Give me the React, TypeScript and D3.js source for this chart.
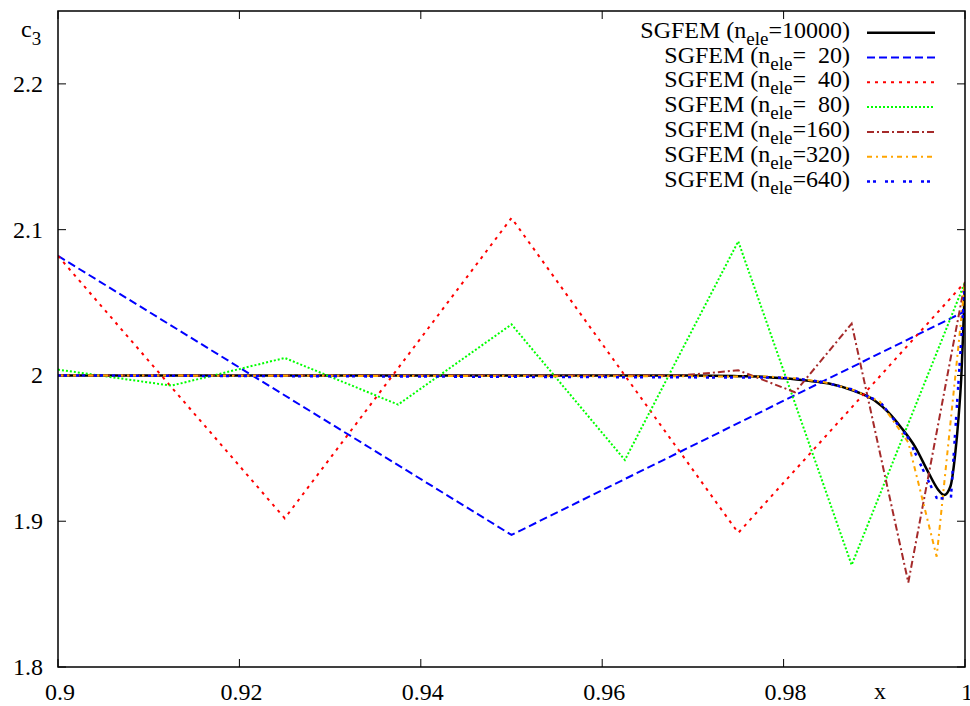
import React, { useEffect, useRef } from "react";
import * as d3 from "d3";

// values
const xTicks = [0.9, 0.92, 0.94, 0.96, 0.98, 1];
const xTickLabels = ["0.9", "0.92", "0.94", "0.96", "0.98", "1"];
const yTicks = [1.8, 1.9, 2.0, 2.1, 2.2];
const yTickLabels = ["1.8", "1.9", "2", "2.1", "2.2"];

const legendNames = ["10000", "  20", "  40", "  80", "160", "320", "640"];

const ele10000: [number, number][] = [
  [0.9, 2.0], [0.97, 2.0], [0.975, 1.9995], [0.978, 1.999], [0.98, 1.998],
  [0.9825, 1.9965], [0.985, 1.9945], [0.9875, 1.99], [0.99, 1.983], [0.9915, 1.975],
  [0.993, 1.964], [0.9945, 1.951], [0.996, 1.933], [0.997, 1.922], [0.9977, 1.918],
  [0.9984, 1.924], [0.9989, 1.945], [0.9993, 1.972], [0.9996, 2.0], [0.9998, 2.03],
  [1.0, 2.063],
];
const ele20: [number, number][] = [[0.9, 2.082], [0.95, 1.8906], [1.0, 2.044]];
const ele40: [number, number][] = [
  [0.9, 2.082], [0.925, 1.902], [0.95, 2.108], [0.975, 1.892], [1.0, 2.064],
];
const ele80: [number, number][] = [
  [0.9, 2.004], [0.9125, 1.993], [0.925, 2.012], [0.9375, 1.98], [0.95, 2.035],
  [0.9625, 1.942], [0.975, 2.092], [0.9875, 1.87], [1.0, 2.064],
];
const ele160: [number, number][] = [
  [0.9, 2.0], [0.96875, 2.0], [0.975, 2.0035], [0.98125, 1.9885], [0.9875, 2.0355],
  [0.99375, 1.858], [1.0, 2.064],
];
const ele320: [number, number][] = [
  [0.9, 2.0], [0.978125, 1.9993], [0.98125, 1.998], [0.984375, 1.9955], [0.9875, 1.9905],
  [0.990625, 1.982], [0.99375, 1.954], [0.996875, 1.8757], [1.0, 2.064],
];
const ele640: [number, number][] = [
  [0.9, 2.0], [0.9796875, 1.9985], [0.98125, 1.998], [0.984375, 1.9955], [0.9875, 1.9905],
  [0.990625, 1.982], [0.99375, 1.957], [0.9953125, 1.936], [0.996875, 1.916],
  [0.9984375, 1.915], [1.0, 2.064],
];

const seriesData = [ele10000, ele20, ele40, ele80, ele160, ele320, ele640];
const colors = ["#000000", "#0000ff", "#ff0000", "#00ff00", "#a52a2a", "#ffa500", "#0000ff"];
const dashes = ["none", "8,4", "3,5", "2,2", "7,3,2,3", "5,4,2,4", "3,3,3,9"];
const widths = [2.5, 2, 2, 2, 2, 2, 2.5];

export default function App() {
  const ref = useRef<SVGSVGElement>(null);

  useEffect(() => {
    const svg = d3.select(ref.current);
    svg.selectAll("*").remove();

    const left = 58, right = 965, top = 11, bottom = 667;
    const font = "'Liberation Serif', 'Times New Roman', serif";
    const fs = 24;

    const x = d3.scaleLinear().domain([0.9, 1]).range([left, right]);
    const y = d3.scaleLinear().domain([1.8, 2.25]).range([bottom, top]);

    svg.append("defs").append("clipPath").attr("id", "plot")
      .append("rect")
      .attr("x", left).attr("y", top)
      .attr("width", right - left).attr("height", bottom - top);

    const line = d3.line<[number, number]>()
      .x(d => x(d[0]))
      .y(d => y(d[1]));
    // the fine solution is smooth, the coarse ones are piecewise linear
    const smooth = d3.line<[number, number]>()
      .x(d => x(d[0]))
      .y(d => y(d[1]))
      .curve(d3.curveMonotoneX);

    // ticks (gnuplot style, inward and mirrored)
    const tickLen = 8;
    const ticks = svg.append("g").attr("stroke", "#000").attr("stroke-width", 1);
    xTicks.forEach(t => {
      ticks.append("line").attr("x1", x(t)).attr("x2", x(t)).attr("y1", bottom).attr("y2", bottom - tickLen);
      ticks.append("line").attr("x1", x(t)).attr("x2", x(t)).attr("y1", top).attr("y2", top + tickLen);
    });
    yTicks.forEach(t => {
      ticks.append("line").attr("x1", left).attr("x2", left + tickLen).attr("y1", y(t)).attr("y2", y(t));
      ticks.append("line").attr("x1", right).attr("x2", right - tickLen).attr("y1", y(t)).attr("y2", y(t));
    });

    // tick labels
    svg.append("g")
      .selectAll("text")
      .data(xTicks)
      .join("text")
      .attr("x", d => x(d) + 2)
      .attr("y", 700)
      .attr("text-anchor", "middle")
      .attr("font-family", font)
      .attr("font-size", fs)
      .text((d, i) => xTickLabels[i]);

    svg.append("g")
      .selectAll("text")
      .data(yTicks)
      .join("text")
      .attr("x", 43)
      .attr("y", d => y(d) + 8)
      .attr("text-anchor", "end")
      .attr("font-family", font)
      .attr("font-size", fs)
      .text((d, i) => yTickLabels[i]);

    // axis labels
    const yl = svg.append("text")
      .attr("x", 21).attr("y", 37)
      .attr("font-family", font).attr("font-size", fs);
    yl.append("tspan").text("c");
    yl.append("tspan").attr("font-size", 19).attr("dy", 8).text("3");

    svg.append("text")
      .attr("x", 880).attr("y", 699)
      .attr("text-anchor", "middle")
      .attr("font-family", font).attr("font-size", fs)
      .text("x");

    // curves
    const curves = svg.append("g").attr("clip-path", "url(#plot)");
    seriesData.forEach((s, i) => {
      curves.append("path")
        .datum(s)
        .attr("d", i === 0 ? smooth : line)
        .attr("fill", "none")
        .attr("stroke", colors[i])
        .attr("stroke-width", widths[i])
        .attr("stroke-dasharray", dashes[i]);
    });

    // legend
    const legend = svg.append("g");
    legendNames.forEach((name, i) => {
      const cy = 32.7 + i * 24.8;
      const t = legend.append("text")
        .attr("x", 850).attr("y", cy + 5)
        .attr("text-anchor", "end")
        .attr("font-family", font).attr("font-size", fs)
        .style("white-space", "pre");
      t.append("tspan").text("SGFEM (n");
      t.append("tspan").attr("font-size", 19).attr("dy", 7).text("ele");
      t.append("tspan").attr("dy", -7).text("=" + name + ")");
      legend.append("line")
        .attr("x1", 867).attr("x2", 935)
        .attr("y1", cy).attr("y2", cy)
        .attr("stroke", colors[i])
        .attr("stroke-width", widths[i])
        .attr("stroke-dasharray", dashes[i]);
    });

    // frame
    svg.append("rect")
      .attr("x", left).attr("y", top)
      .attr("width", right - left).attr("height", bottom - top)
      .attr("fill", "none")
      .attr("stroke", "#000")
      .attr("stroke-width", 1.5);
  }, []);

  return (
    <svg
      ref={ref}
      width={970}
      height={706}
      style={{ position: "absolute", left: 0, top: 0, background: "#fff" }}
    />
  );
}
